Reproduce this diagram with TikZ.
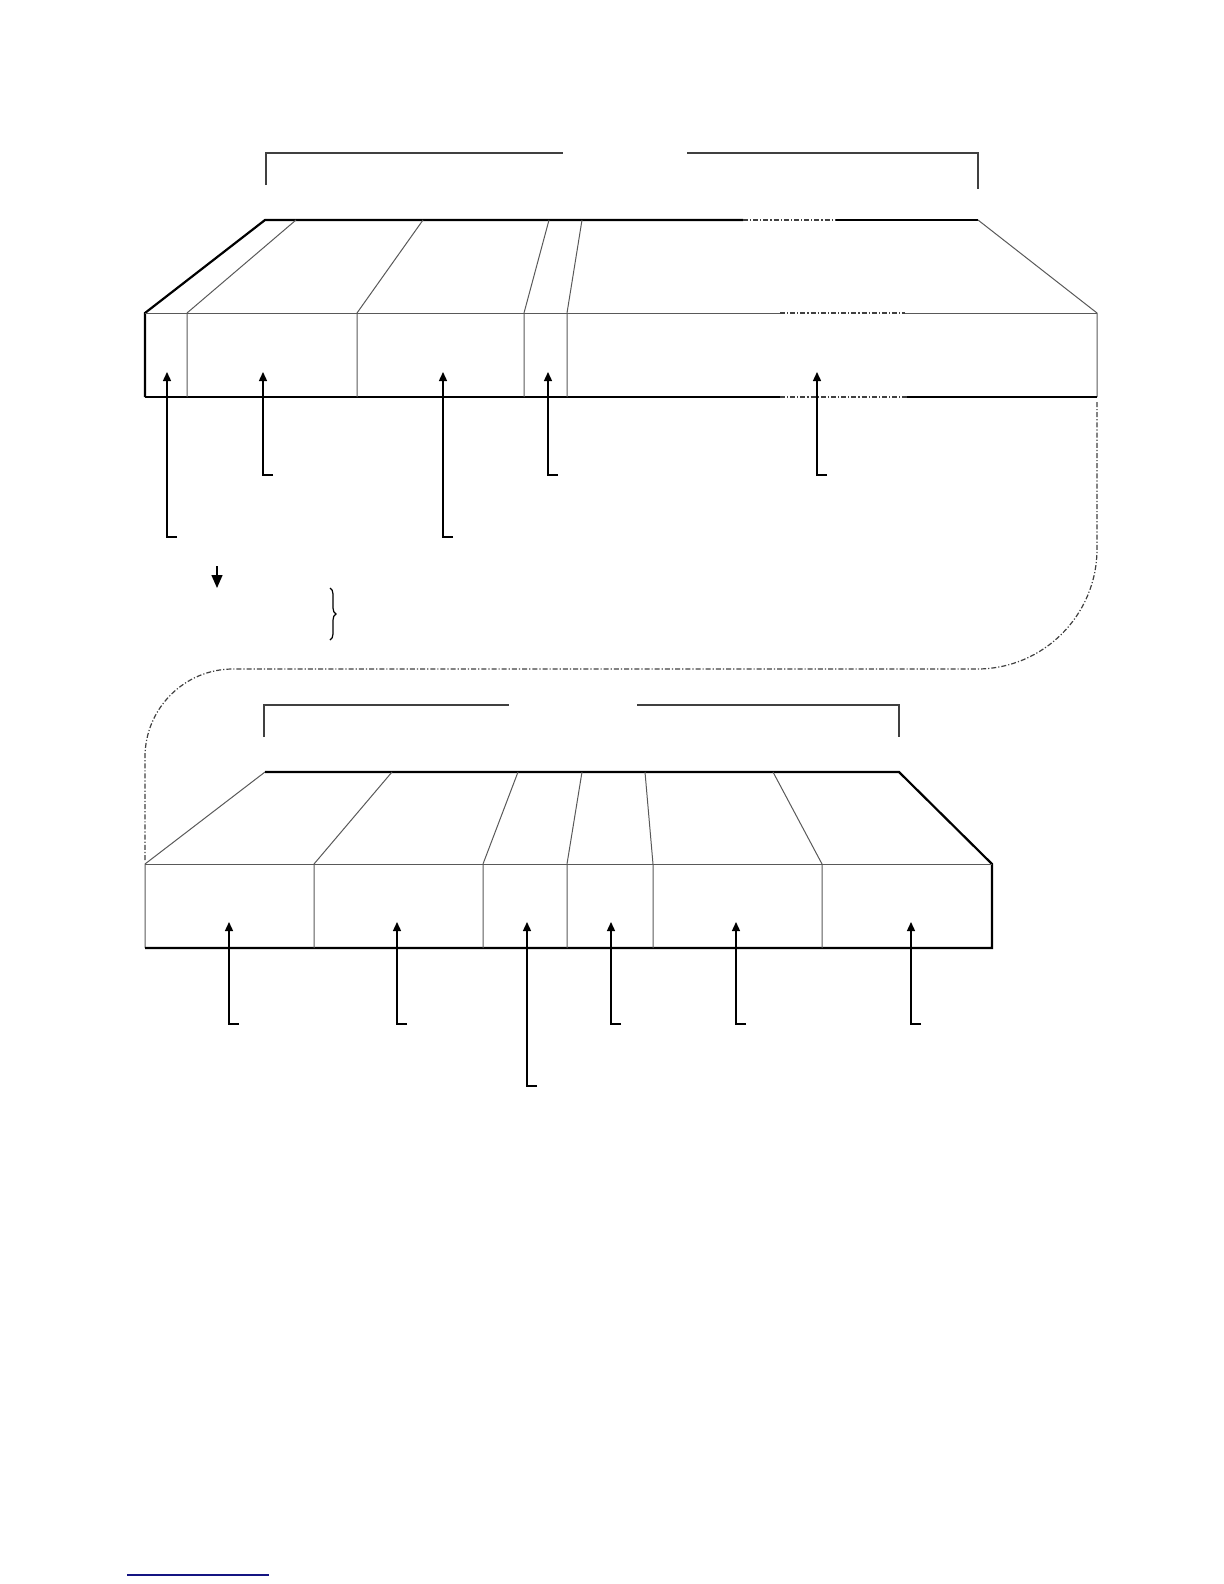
\documentclass[tikz,border=0pt]{standalone}
\usepackage{tikz}
\usetikzlibrary{arrows.meta,decorations.pathreplacing}
\begin{document}
\begin{tikzpicture}[x=0.5bp,y=-0.5bp,
    edge/.style={line width=1.1bp,black},
    part/.style={line width=0.5bp,black!65},
    gap/.style={line width=0.6bp,black!75,dash pattern=on 2.5bp off 1bp on 0.6bp off 1bp},
    lead/.style={line width=0.7bp,black,-{Triangle[length=4.5bp,width=4bp]}},
    bracket/.style={line width=0.55bp,black!75}]
                        \useasboundingbox (0,0) rectangle (1224,1584);

                        % Drawing bracket over upper block
                        \draw [bracket] (266,185) -- (266,153) -- (563,153);%
                        \draw [bracket] (687,153) -- (978,153) -- (978,189);%

                        % Drawing upper block
                        \draw [edge] (145,397) -- (145,313) -- (265,220) -- (743,220);%
                        \draw [gap] (743,220) -- (836,220);%
                        \draw [edge] (836,220) -- (978,220);%
                        \draw [part] (978,220) -- (1097,313) -- (1097,397);%
                        \draw [part] (145,313) -- (780,313);%
                        \draw [gap] (780,313) -- (905,313);%
                        \draw [part] (905,313) -- (1097,313);%
                        \draw [edge] (145,397) -- (780,397);%
                        \draw [gap] (780,397) -- (907,397);%
                        \draw [edge] (907,397) -- (1097,397);%

                        % Drawing parts of upper block
                        \foreach \f/\b in {187/296, 357/423, 524/549, 567/582}
                          \draw [part] (\f,397) -- (\f,313) -- (\b,220);%

                        % Marking parts of upper block by arrows
                        \foreach \p/\q in {167/537, 263/475, 443/537, 548/475, 817/475}
                          \draw [lead] (\p+10,\q) -- (\p,\q) -- (\p,372);%

                        % Drawing arrow and brace
                        \draw [lead,-{Triangle[length=6.5bp,width=5.5bp]}] (217,566) -- (217,588);%
                        \draw [line width=0.6bp,decorate,decoration={brace,amplitude=3bp}] (330,588) -- (330,640);%

                        % Drawing link between the blocks
                        \draw [gap] (1097,402) -- (1097,549) arc [start angle=0,end angle=-90,radius=60bp]
                          -- (233,669) arc [start angle=90,end angle=180,radius=44bp] -- (145,860);%

                        % Drawing bracket over lower block
                        \draw [bracket] (264,737) -- (264,705) -- (509,705);%
                        \draw [bracket] (637,705) -- (899,705) -- (899,737);%

                        % Drawing lower block
                        \draw [part] (145,948) -- (145,864) -- (265,772);%
                        \draw [edge] (265,772) -- (899,772) -- (992,864) -- (992,948) -- (145,948);%
                        \draw [part] (145,864) -- (992,864);%

                        % Drawing parts of lower block
                        \foreach \f/\b in {314/392, 483/518, 567/582, 653/645, 822/773}
                          \draw [part] (\f,948) -- (\f,864) -- (\b,772);%

                        % Marking parts of lower block by arrows
                        \foreach \p/\q in {229/1024, 397/1024, 527/1086, 611/1024, 736/1024, 911/1024}
                          \draw [lead] (\p+10,\q) -- (\p,\q) -- (\p,922);%

                        % Drawing link line at the foot
                        \draw [line width=0.9bp,color={rgb,255:red,20;green,20;blue,130}] (127,1575) -- (269,1575);%
\end{tikzpicture}
\end{document}
